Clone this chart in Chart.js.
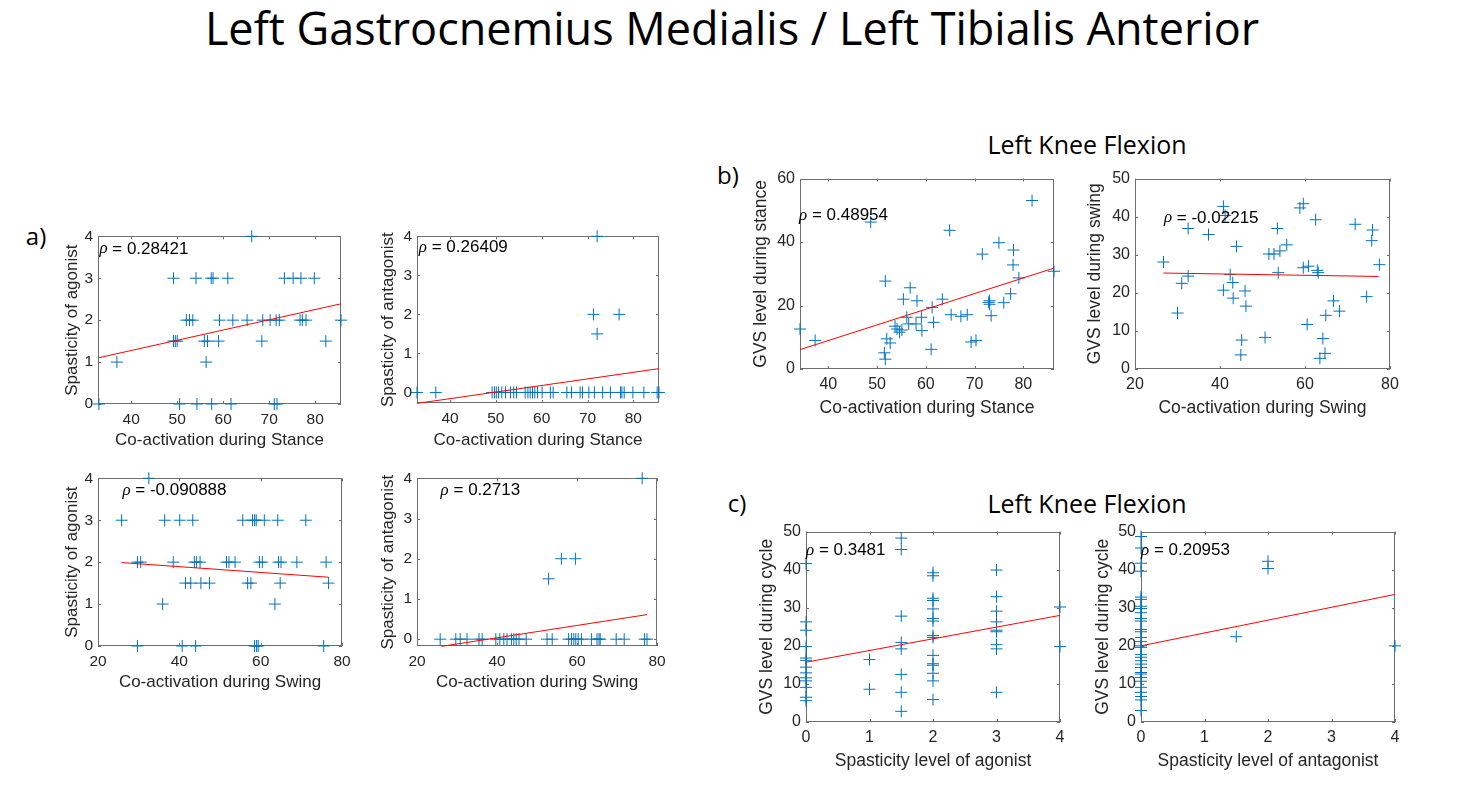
<!DOCTYPE html>
<html>
<head>
<meta charset="utf-8">
<script src="https://cdn.jsdelivr.net/npm/chart.js@4.4.1/dist/chart.umd.min.js"></script>
<style>
  html, body { margin: 0; padding: 0; background: #ffffff; }
  body { width: 1467px; height: 807px; position: relative; overflow: hidden; }
  .txt { position: absolute; white-space: nowrap; color: #000; font-family: 'Open Sans', Lato, sans-serif; line-height: 1; transform: translate(-50%, -50%); }
  canvas { position: absolute; }
</style>
</head>
<body>
<div class="txt" style="left:732px; top:27px; font-size:45px;">Left Gastrocnemius Medialis / Left Tibialis Anterior</div>
<div class="txt" style="left:36px; top:236px; font-size:24px;">a)</div>
<div class="txt" style="left:728px; top:175px; font-size:24px;">b)</div>
<div class="txt" style="left:737px; top:503px; font-size:24px;">c)</div>
<div class="txt" style="left:1087px; top:144px; font-size:25px;">Left Knee Flexion</div>
<div class="txt" style="left:1087px; top:503px; font-size:25px;">Left Knee Flexion</div>

<script>
// ---------------- DATA ----------------
// a) top-left: spasticity of agonist vs co-activation during stance
const agoStanceX = [66.2, 49.2, 54.1, 57.4, 57.8, 61.0, 73.3, 75.2, 76.9, 79.8,
  52.0, 52.7, 53.4, 59.2, 62.1, 65.2, 68.6, 70.2, 71.5, 72.2, 76.7, 77.2, 78.0, 85.6,
  49.2, 49.6, 50.0, 55.9, 56.6, 59.0, 68.4, 82.3,
  36.9, 56.3,
  33.0, 50.5, 54.3, 57.5, 61.7, 71.1, 71.7];
const agoStanceY = [4, 3, 3, 3, 3, 3, 3, 3, 3, 3,
  2, 2, 2, 2, 2, 2, 2, 2, 2, 2, 2, 2, 2, 2,
  1.5, 1.5, 1.5, 1.5, 1.5, 1.5, 1.5, 1.5,
  1, 1,
  0, 0, 0, 0, 0, 0, 0];
const agoStanceFitX = [32.8, 85.6];
const agoStanceFitY = [1.10, 2.39];

// a) top-right: spasticity of antagonist vs co-activation during stance
const antStanceX = [32.8, 36.9, 49.2, 49.7, 50.1, 50.6, 51.3, 52.1, 53.2, 53.9, 54.5, 56.4, 57.0, 57.5,
  58.0, 58.5, 59.1, 60.1, 61.9, 62.5, 65.5, 66.5, 68.4, 68.9, 70.3, 71.5, 73.3, 75.0, 77.2, 77.5,
  78.0, 79.9, 82.3, 85.2, 85.6,
  72.1, 71.3, 76.9, 72.1];
const antStanceY = [0, 0, 0, 0, 0, 0, 0, 0, 0, 0, 0, 0, 0, 0,
  0, 0, 0, 0, 0, 0, 0, 0, 0, 0, 0, 0, 0, 0, 0, 0,
  0, 0, 0, 0, 0,
  4, 2, 2, 1.5];
const antStanceFitX = [32.8, 85.6];
const antStanceFitY = [-0.28, 0.61];

// a) bottom-left: spasticity of agonist vs co-activation during swing
const agoSwingX = [32.5,
  25.8, 36.4, 40.1, 43.3, 55.6, 58.0, 58.5, 58.9, 60.9, 64.2, 71.1,
  29.7, 30.5, 38.5, 43.7, 44.2, 45.1, 51.6, 52.2, 53.7, 59.7, 60.4, 64.4, 65.0, 68.9, 76.1,
  41.5, 42.8, 45.3, 47.4, 56.8, 57.6, 64.8, 76.7,
  35.9, 63.5,
  29.7, 40.7, 44.0, 58.5, 59.0, 59.4, 75.5];
const agoSwingY = [4,
  3, 3, 3, 3, 3, 3, 3, 3, 3, 3, 3,
  2, 2, 2, 2, 2, 2, 2, 2, 2, 2, 2, 2, 2, 2, 2,
  1.5, 1.5, 1.5, 1.5, 1.5, 1.5, 1.5, 1.5,
  1, 1,
  0, 0, 0, 0, 0, 0, 0];
const agoSwingFitX = [25.8, 76.7];
const agoSwingFitY = [1.99, 1.64];

// a) bottom-right: spasticity of antagonist vs co-activation during swing
const antSwingX = [76.3, 56.1, 59.6, 52.9,
  25.8, 29.7, 30.8, 32.5, 35.5, 36.3, 39.7, 40.7, 41.7, 42.5, 43.6, 44.2, 44.8, 45.5, 47.3,
  52.5, 53.8, 57.9, 58.6, 59.2, 59.7, 60.3, 61.1, 63.6, 65.0, 65.5, 65.8, 69.8, 71.8, 76.9, 77.5];
const antSwingY = [4, 2, 2, 1.5,
  0, 0, 0, 0, 0, 0, 0, 0, 0, 0, 0, 0, 0, 0, 0,
  0, 0, 0, 0, 0, 0, 0, 0, 0, 0, 0, 0, 0, 0, 0, 0];
const antSwingFitX = [26.1, 77.5];
const antSwingFitY = [-0.18, 0.61];

// b) GVS level during stance vs co-activation during stance
const gvsStanceX = [34.2, 37.3, 48.7, 51.7, 51.5, 51.7, 52.0, 52.7, 53.7, 54.1, 54.6, 55.1, 55.4, 56.1,
  56.5, 56.8, 58.2, 58.0, 59.1, 59.2, 61.3, 61.1, 61.6, 63.4, 64.9, 65.2, 67.2, 68.5, 69.3, 70.3,
  71.6, 73.1, 73.1, 73.4, 75.0, 76.0, 77.4, 77.9, 78.0, 79.1, 81.8, 86.3, 72.9];
const gvsStanceY = [12.6, 9.0, 46.3, 27.7, 5.1, 3.1, 9.5, 8.2, 13.5, 12.6, 11.6, 12.3, 22.0, 16.3,
  14.2, 25.6, 21.5, 14.2, 16.3, 12.1, 19.4, 6.2, 14.7, 22.0, 43.7, 17.1, 16.6, 17.1, 8.5, 9.0,
  36.2, 21.5, 20.4, 16.8, 39.8, 20.9, 23.7, 32.8, 37.5, 28.7, 53.1, 30.8, 21.0];
const gvsStanceFitX = [34.2, 86.3];
const gvsStanceFitY = [6.1, 31.8];

// b) GVS level during swing vs co-activation during swing
const gvsSwingX = [26.7, 30.0, 31.0, 32.5, 32.5, 37.3, 40.8, 41.2, 40.8, 42.4, 43.0, 43.1, 43.9, 44.9,
  45.1, 45.9, 46.1, 50.6, 51.5, 52.7, 53.5, 53.7, 54.1, 55.7, 58.8, 59.6, 59.6, 60.8, 60.5, 62.5,
  62.9, 63.1, 63.5, 64.2, 64.7, 64.9, 66.7, 68.1, 71.8, 74.5, 75.7, 75.9, 77.5];
const gvsSwingY = [28.1, 14.7, 22.5, 24.4, 36.9, 35.3, 42.7, 40.3, 20.7, 24.8, 22.7, 18.6, 32.2, 3.7,
  7.6, 20.5, 16.5, 8.3, 30.2, 30.2, 36.9, 25.3, 31.0, 32.6, 42.3, 43.4, 26.6, 27.0, 11.7, 39.2,
  25.9, 25.3, 2.8, 8.0, 4.1, 14.1, 17.9, 15.2, 38.0, 19.0, 33.7, 36.5, 27.4];
const gvsSwingFitX = [26.7, 77.3];
const gvsSwingFitY = [25.2, 24.3];

// c) GVS level during cycle vs spasticity level of agonist
const gvsAgoX = [0, 0, 0, 0, 0, 0, 0, 0, 0, 0, 0, 0, 0,
  1, 1,
  1.5, 1.5, 1.5, 1.5, 1.5, 1.5, 1.5, 1.5,
  2, 2, 2, 2, 2, 2, 2, 2, 2, 2, 2, 2, 2, 2, 2,
  3, 3, 3, 3, 3, 3, 3, 3, 3,
  4, 4];
const gvsAgoY = [41.6, 26.3, 24.1, 19.8, 16.8, 16.2, 14.4, 12.9, 11.6, 10.8, 9.1, 6.5, 5.6,
  16.4, 8.6,
  48.3, 45.3, 27.8, 20.9, 19.2, 12.5, 7.8, 2.8,
  39.2, 38.4, 32.5, 31.9, 29.7, 27.2, 26.5, 22.7, 22.2, 17.5, 15.3, 14.9, 12.8, 10.8, 5.9,
  39.9, 32.9, 29.1, 26.3, 24.1, 23.7, 20.3, 19.2, 7.8,
  30.2, 19.8];
const gvsAgoFitX = [0, 4];
const gvsAgoFitY = [15.7, 28.0];

// c) GVS level during cycle vs spasticity level of antagonist
const gvsAntX = [0, 0, 0, 0, 0, 0, 0, 0, 0, 0, 0, 0, 0, 0, 0, 0,
  0, 0, 0, 0, 0, 0, 0, 0, 0, 0, 0, 0, 0, 0, 0,
  1.5, 2, 2, 4];
const gvsAntY = [48.7, 45.7, 41.7, 39.6, 32.8, 32.2, 30.4, 29.8, 28.7, 27.2, 26.5, 24.3, 23.7, 22.2, 21.1, 20.0,
  19.6, 17.7, 17.0, 16.1, 15.2, 14.3, 13.0, 12.6, 11.7, 10.7, 9.1, 7.8, 6.7, 5.8, 3.0,
  22.4, 42.2, 40.3, 20.0];
const gvsAntFitX = [0, 4];
const gvsAntFitY = [20.0, 33.5];

// tick labels
const ticksCoactStance = [40, 50, 60, 70, 80];
const ticksCoactSwing = [20, 40, 60, 80];
const ticksSpasticity = [0, 1, 2, 3, 4];
const ticksGvs60 = [0, 20, 40, 60];
const ticksGvs50 = [0, 10, 20, 30, 40, 50];

// correlation labels
const rhoValues = ['0.28421', '0.26409', '-0.090888', '0.2713', '0.48954', '-0.02215', '0.3481', '0.20953'];

// axis titles
const xTitles = ['Co-activation during Stance', 'Co-activation during Stance', 'Co-activation during Swing', 'Co-activation during Swing',
  'Co-activation during Stance', 'Co-activation during Swing', 'Spasticity level of agonist', 'Spasticity level of antagonist'];
const yTitles = ['Spasticity of agonist', 'Spasticity of antagonist', 'Spasticity of agonist', 'Spasticity of antagonist',
  'GVS level during stance', 'GVS level during swing', 'GVS level during cycle', 'GVS level during cycle'];

// ---------------- LAYOUT ----------------
const FONT = "'Liberation Sans', Arial, Helvetica, sans-serif";
const panels = [
  { xs: agoStanceX, ys: agoStanceY, fx: agoStanceFitX, fy: agoStanceFitY, xr: [32.8, 85.6], yr: [0, 4], xt: ticksCoactStance, yt: ticksSpasticity,
    L: 98, T: 234, R: 341, B: 404, ylx: 72, xly: 441, rho: [33.1, 3.70], fs: 15.5, ls: 17 },
  { xs: antStanceX, ys: antStanceY, fx: antStanceFitX, fy: antStanceFitY, xr: [32.8, 85.6], yr: [-0.27, 4], xt: ticksCoactStance, yt: ticksSpasticity,
    L: 417, T: 234, R: 659, B: 403, ylx: 388, xly: 441, rho: [33.2, 3.71], fs: 15.5, ls: 17 },
  { xs: agoSwingX, ys: agoSwingY, fx: agoSwingFitX, fy: agoSwingFitY, xr: [20, 80], yr: [0, 4], xt: ticksCoactSwing, yt: ticksSpasticity,
    L: 98, T: 476, R: 342, B: 646, ylx: 72, xly: 683, rho: [26.0, 3.71], fs: 15.5, ls: 17 },
  { xs: antSwingX, ys: antSwingY, fx: antSwingFitX, fy: antSwingFitY, xr: [20, 80], yr: [-0.17, 4], xt: ticksCoactSwing, yt: ticksSpasticity,
    L: 417, T: 476, R: 657, B: 646, ylx: 388, xly: 683, rho: [25.9, 3.70], fs: 15.5, ls: 17 },
  { xs: gvsStanceX, ys: gvsStanceY, fx: gvsStanceFitX, fy: gvsStanceFitY, xr: [34.2, 86.3], yr: [0, 60], xt: ticksCoactStance, yt: ticksGvs60,
    L: 800, T: 176, R: 1054, B: 369, ylx: 761, xly: 408, rho: [34.0, 48.4], fs: 16, ls: 17.5 },
  { xs: gvsSwingX, ys: gvsSwingY, fx: gvsSwingFitX, fy: gvsSwingFitY, xr: [20, 80], yr: [0, 50], xt: ticksCoactSwing, yt: ticksGvs50,
    L: 1135, T: 176, R: 1390, B: 369, ylx: 1095, xly: 408, rho: [26.8, 39.7], fs: 16, ls: 17.5 },
  { xs: gvsAgoX, ys: gvsAgoY, fx: gvsAgoFitX, fy: gvsAgoFitY, xr: [0, 4], yr: [0, 50], xt: ticksSpasticity, yt: ticksGvs50,
    L: 806, T: 529, R: 1060, B: 722, ylx: 767, xly: 761, rho: [0.0, 45.1], fs: 16, ls: 17.5 },
  { xs: gvsAntX, ys: gvsAntY, fx: gvsAntFitX, fy: gvsAntFitY, xr: [0, 4], yr: [0, 50], xt: ticksSpasticity, yt: ticksGvs50,
    L: 1141, T: 529, R: 1395, B: 722, ylx: 1103, xly: 761, rho: [0.0, 45.0], fs: 16, ls: 17.5 }
];

const boxPlugin = {
  id: 'matlabBox',
  beforeDatasetsDraw(chart) {
    const { ctx, chartArea: a, scales } = chart;
    ctx.save();
    ctx.strokeStyle = '#6e6e6e';
    ctx.lineWidth = 1;
    ctx.strokeRect(Math.round(a.left) + 0.5, Math.round(a.top) + 0.5, Math.round(a.right - a.left) - 1, Math.round(a.bottom - a.top) - 1);
    const tl = 3;
    ctx.beginPath();
    scales.x.ticks.forEach(t => {
      const px = Math.round(scales.x.getPixelForValue(t.value)) + 0.5;
      ctx.moveTo(px, a.bottom); ctx.lineTo(px, a.bottom - tl);
      ctx.moveTo(px, a.top); ctx.lineTo(px, a.top + tl);
    });
    scales.y.ticks.forEach(t => {
      const py = Math.round(scales.y.getPixelForValue(t.value)) + 0.5;
      ctx.moveTo(a.left, py); ctx.lineTo(a.left + tl, py);
      ctx.moveTo(a.right, py); ctx.lineTo(a.right - tl, py);
    });
    ctx.stroke();
    ctx.restore();
  },
  afterDatasetsDraw(chart, args, opts) {
    const { ctx, scales } = chart;
    const x = scales.x.getPixelForValue(opts.rx);
    const y = scales.y.getPixelForValue(opts.ry);
    ctx.save();
    ctx.fillStyle = '#000';
    ctx.textBaseline = 'middle';
    ctx.textAlign = 'left';
    ctx.font = "italic 17px 'Liberation Serif', 'DejaVu Serif', serif";
    ctx.fillText('\u03C1', x, y);
    const w = ctx.measureText('\u03C1').width;
    ctx.font = '17px ' + FONT;
    ctx.fillText(' = ' + opts.text, x + w, y);
    ctx.restore();
  }
};

panels.forEach((p, i) => {
  const tlh = p.ls * 1.2;
  const cl = Math.round(p.ylx - tlh / 2);
  const ct = p.T - 12;
  const cr = p.R + 18;
  const cb = Math.round(p.xly + tlh / 2);
  const c = document.createElement('canvas');
  c.width = cr - cl; c.height = cb - ct;
  c.style.left = cl + 'px'; c.style.top = ct + 'px';
  c.style.width = (cr - cl) + 'px'; c.style.height = (cb - ct) + 'px';
  document.body.appendChild(c);
  const pts = p.xs.map((x, k) => ({ x: x, y: p.ys[k] }));
  const fit = p.fx.map((x, k) => ({ x: x, y: p.fy[k] }));
  const axisCommon = (tickVals, fitFn) => ({
    type: 'linear',
    afterBuildTicks: s => { s.ticks = tickVals.map(v => ({ value: v })); },
    afterFit: fitFn,
    grid: { display: false, drawTicks: false },
    border: { display: false },
    ticks: { color: '#262626', font: { family: FONT, size: p.fs }, autoSkip: false, maxRotation: 0, padding: 5 }
  });
  const xAxis = axisCommon(p.xt, s => { s.height = cb - p.B; });
  xAxis.min = p.xr[0]; xAxis.max = p.xr[1];
  xAxis.ticks.padding = 6;
  xAxis.title = { display: true, text: xTitles[i], color: '#262626', font: { family: FONT, size: p.ls }, padding: 0 };
  const yAxis = axisCommon(p.yt, s => { s.width = p.L - cl; });
  yAxis.min = p.yr[0]; yAxis.max = p.yr[1];
  yAxis.title = { display: true, text: yTitles[i], color: '#262626', font: { family: FONT, size: p.ls }, padding: 0 };
  new Chart(c, {
    type: 'scatter',
    data: {
      datasets: [
        { data: fit, showLine: true, borderColor: '#ff0000', borderWidth: 1, pointRadius: 0, order: 0, clip: false },
        { data: pts, pointStyle: 'cross', pointRadius: 6, pointBorderWidth: 1, borderColor: '#0072BD', backgroundColor: '#0072BD', order: 1, clip: false }
      ]
    },
    options: {
      responsive: false, animation: false, devicePixelRatio: 1,
      layout: { padding: { top: 12, right: 18, left: 0, bottom: 0 } },
      plugins: { legend: { display: false }, tooltip: { enabled: false }, matlabBox: { rx: p.rho[0], ry: p.rho[1], text: rhoValues[i] } },
      scales: { x: xAxis, y: yAxis }
    },
    plugins: [boxPlugin]
  });
});
</script>
</body>
</html>
